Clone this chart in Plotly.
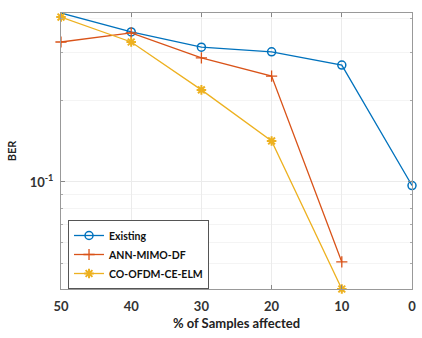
import plotly.graph_objects as go
import math

samples = [50, 40, 30, 20, 10, 0]
existing = [0.418, 0.356, 0.313, 0.301, 0.269, 0.097]
samples_short = [50, 40, 30, 20, 10]
ann_mimo_df = [0.327, 0.353, 0.286, 0.245, 0.0508]
co_ofdm = [0.404, 0.327, 0.218, 0.1415, 0.0404]

x_ticks = [50, 40, 30, 20, 10, 0]
y_major = [0.1]
y_major_text = ["10<sup>-1</sup>"]
y_minor = [0.05, 0.06, 0.07, 0.08, 0.09, 0.2, 0.3, 0.4]

fig = go.Figure()
fig.add_trace(go.Scatter(x=samples, y=existing, name="Existing", mode="lines+markers", cliponaxis=False,
                         line=dict(color="#0072BD", width=1.3),
                         marker=dict(symbol="circle-open", size=8, color="#0072BD", line=dict(width=1.5))))
fig.add_trace(go.Scatter(x=samples_short, y=ann_mimo_df, name="ANN-MIMO-DF", mode="lines+markers", cliponaxis=False,
                         line=dict(color="#D95319", width=1.3),
                         marker=dict(symbol="cross-thin-open", size=8, color="#D95319", line=dict(width=1.3, color="#D95319"))))
fig.add_trace(go.Scatter(x=samples_short, y=co_ofdm, name="CO-OFDM-CE-ELM", mode="lines+markers", cliponaxis=False,
                         line=dict(color="#EDB120", width=1.3),
                         marker=dict(symbol="asterisk-open", size=8, color="#EDB120", line=dict(width=2, color="#EDB120"))))

font_family = "Lato, Open Sans, sans-serif"
fig.update_layout(
    width=422, height=338,
    margin=dict(l=61, r=6, t=13, b=49),
    paper_bgcolor="white", plot_bgcolor="white",
    font=dict(family=font_family, size=12, color="#333333"),
    showlegend=True,
    legend=dict(x=0.02, y=0.25, xanchor="left", yanchor="top",
                bgcolor="white", bordercolor="#555555", borderwidth=1,
                font=dict(size=10.5, color="#111111", family=font_family, weight="bold"),
                itemwidth=30, tracegroupgap=0),
    xaxis=dict(range=[50, 0], tickvals=x_ticks, ticks="inside", ticklen=4,
               tickcolor="#888888", showline=True, linecolor="#999999", mirror="ticks",
               showgrid=True, gridcolor="#EBEBEB", zeroline=False, ticklabeloverflow="allow",
               ticklabelstandoff=5,
               tickfont=dict(size=13, weight="bold", color="#333333"),
               title=dict(text="% of Samples affected", font=dict(size=13, weight="bold", color="#222222"), standoff=6)),
    yaxis=dict(type="log", range=[math.log10(0.0404), math.log10(0.418)],
               tickvals=y_major, ticktext=y_major_text, ticks="inside", ticklen=4,
               tickcolor="#888888", showline=True, linecolor="#999999", mirror="ticks",
               showgrid=True, gridcolor="#EBEBEB", zeroline=False,
               ticklabelstandoff=4,
               tickfont=dict(size=13, weight="bold", color="#333333"),
               minor=dict(tickvals=y_minor, ticks="inside", ticklen=2, tickcolor="#AAAAAA",
                          showgrid=True, gridcolor="#F4F4F4"),
               title=dict(text="BER", font=dict(size=11, weight="bold", color="#222222"), standoff=10)),
)

fig.write_html("out.html", post_script="document.body.style.margin='0';",
               config={"displayModeBar": False})
